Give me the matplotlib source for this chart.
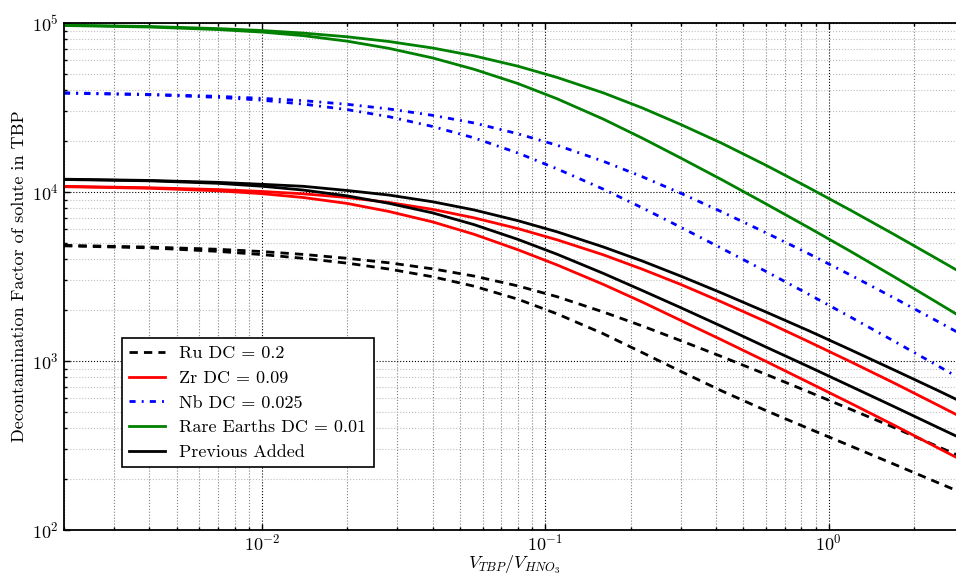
import numpy as np
import matplotlib
matplotlib.use("Agg")
import matplotlib.pyplot as plt

plt.rcParams['font.family'] = ['cmr10']
plt.rcParams['mathtext.fontset'] = 'cm'
plt.rcParams['axes.formatter.use_mathtext'] = True

# V_TBP / V_HNO3
ratio = [0.002, 0.004, 0.007, 0.01, 0.014, 0.02, 0.028, 0.04, 0.056, 0.08, 0.11,
         0.16, 0.22, 0.3, 0.42, 0.6, 0.85, 1.2, 1.7, 2.4, 3]

# two curves per solute (upper / lower)
ru_hi = [4830, 4720, 4580, 4440, 4270, 4050, 3810, 3510, 3180, 2780, 2400,
         1950, 1610, 1320, 1060, 834, 656, 516, 404, 314, 267]
ru_lo = [4800, 4670, 4450, 4260, 4050, 3790, 3500, 3150, 2770, 2320, 1900,
         1450, 1120, 869, 664, 509, 398, 313, 245, 192, 164]
zr_hi = [10800, 10590, 10330, 10070, 9750, 9270, 8670, 7890, 7030, 6070, 5210,
         4250, 3490, 2840, 2230, 1710, 1300, 986, 741, 553, 457]
zr_lo = [10740, 10520, 10160, 9770, 9270, 8550, 7670, 6650, 5620, 4550, 3700,
         2840, 2230, 1740, 1330, 995, 746, 560, 417, 309, 255]
nb_hi = [38600, 37800, 36800, 35800, 34700, 33000, 31000, 28400, 25600, 22100, 18900,
         15200, 12300, 9840, 7620, 5740, 4310, 3210, 2360, 1730, 1410]
nb_lo = [38400, 37600, 36300, 34900, 33100, 30700, 27900, 24400, 20900, 17000, 13700,
         10400, 8050, 6190, 4630, 3390, 2480, 1810, 1310, 946, 764]
re_hi = [97100, 95300, 92600, 90200, 87100, 82800, 77700, 71100, 63900, 55500, 47600,
         38600, 31400, 25100, 19400, 14400, 10600, 7760, 5610, 4040, 3260]
re_lo = [96600, 94600, 91400, 88300, 84100, 78000, 70800, 62100, 53200, 43800, 35600,
         27000, 20800, 15900, 11800, 8510, 6150, 4430, 3150, 2230, 1780]
prev_hi = [11900, 11700, 11400, 11100, 10800, 10200, 9590, 8750, 7830, 6760, 5810,
           4730, 3900, 3180, 2520, 1950, 1510, 1160, 885, 675, 564]
prev_lo = [11850, 11640, 11250, 10810, 10260, 9480, 8570, 7520, 6410, 5240, 4280,
           3300, 2610, 2070, 1600, 1210, 925, 706, 537, 408, 342]

fig = plt.figure(figsize=(9.56, 5.74), dpi=100)
ax = fig.add_axes([0.0669, 0.0767, 0.9414, 0.8833])

lw = 2
dash = (3, 2.2)
dashdot = (2.2, 2.2, 0.7, 2.2)

ax.plot(ratio, ru_hi, color='k', lw=lw, dashes=dash, label='Ru DC = 0.2')
ax.plot(ratio, ru_lo, color='k', lw=lw, dashes=dash)
ax.plot(ratio, zr_hi, color='r', lw=lw, label='Zr DC = 0.09')
ax.plot(ratio, zr_lo, color='r', lw=lw)
ax.plot(ratio, nb_hi, color='b', lw=lw, dashes=dashdot, label='Nb DC = 0.025')
ax.plot(ratio, nb_lo, color='b', lw=lw, dashes=dashdot)
ax.plot(ratio, re_hi, color='g', lw=lw, label='Rare Earths DC = 0.01')
ax.plot(ratio, re_lo, color='g', lw=lw)
ax.plot(ratio, prev_hi, color='k', lw=lw, label='Previous Added')
ax.plot(ratio, prev_lo, color='k', lw=lw)

ax.set_xscale('log')
ax.set_yscale('log')
ax.set_xlim(0.002, 3)
ax.set_ylim(100, 1e5)

ax.grid(which='major', color='k', ls=':', lw=0.8)
ax.xaxis.grid(which='minor', color='0.5', ls=':', lw=0.8)
ax.yaxis.grid(which='minor', color='0.75', ls=':', lw=0.8)
ax.set_axisbelow(True)

ax.tick_params(which='both', direction='in', top=True, right=True, labelsize=13)
ax.tick_params(axis='x', which='major', pad=2)
ax.tick_params(which='major', length=4, width=1)
ax.tick_params(which='minor', length=2, width=1)
for s in ax.spines.values():
    s.set_linewidth(1.3)

ax.set_xlabel(r'$V_{TBP}/V_{HNO_3}$', fontsize=13, labelpad=0)
ax.set_ylabel('Decontamination Factor of solute in TBP', fontsize=13)

leg = ax.legend(loc='lower left', bbox_to_anchor=(0.064, 0.124), borderaxespad=0,
                fontsize=13, fancybox=False, handlelength=2, handletextpad=0.8,
                labelspacing=0.5, framealpha=1)
leg.get_frame().set_edgecolor('k')
leg.get_frame().set_linewidth(1.2)

fig.savefig('out.png', dpi=100)
